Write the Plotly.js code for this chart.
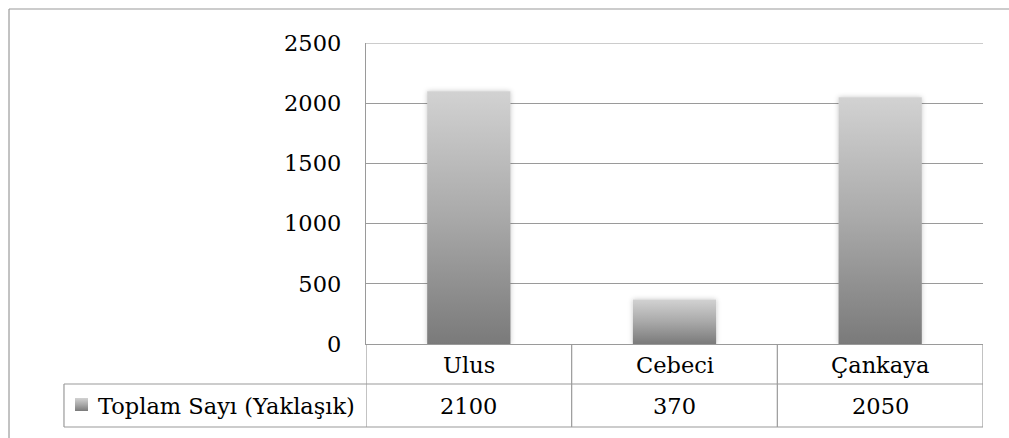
<!DOCTYPE html>
<html>
<head>
<meta charset="utf-8">
<script src="https://cdn.plot.ly/plotly-3.0.1.min.js"></script>
<style>
  html, body { margin: 0; padding: 0; background: #fff; }
  #chart { width: 1009px; height: 438px; }
</style>
</head>
<body>
<div id="chart"></div>
<script>
// ---- data ----
const categories = ["Ulus", "Cebeci", "Çankaya"];
const values = [2100, 370, 2050];
const seriesName = "Toplam Sayı (Yaklaşık)";
const yTicks = [0, 500, 1000, 1500, 2000, 2500];

// ---- style ----
const FONT = "DejaVu Serif";
const FS = 22.5;
const LINE = "#9a9a9a";
const KEY_FILL = "#a5a5a6";

const trace = {
  type: "bar",
  x: categories,
  y: values,
  name: seriesName,
  width: 0.405,
  marker: { color: "#a8a8a8", line: { width: 0 } },
  hoverinfo: "none",
  showlegend: false
};

// table / frame geometry (paper coords)
const tableLeft = -0.4895, row1 = -0.1329, row2 = -0.2757;
const shapes = [
  // outer chart frame (top + left edges)
  { type: "line", xref: "paper", yref: "paper", x0: -0.5786, x1: 1.05, y0: 1.113, y1: 1.113, line: { color: LINE, width: 1.2 } },
  { type: "line", xref: "paper", yref: "paper", x0: -0.5786, x1: -0.5786, y0: 1.113, y1: -0.33, line: { color: LINE, width: 1.2 } },
  // top gridline (at axis range edge)
  { type: "line", xref: "paper", yref: "y", x0: 0, x1: 1, y0: yTicks[yTicks.length - 1], y1: yTicks[yTicks.length - 1], line: { color: LINE, width: 1.2 } },
  // data table horizontal lines
  { type: "line", xref: "paper", yref: "paper", x0: tableLeft, x1: 1, y0: row1, y1: row1, line: { color: LINE, width: 1.2 } },
  { type: "line", xref: "paper", yref: "paper", x0: tableLeft, x1: 1, y0: row2, y1: row2, line: { color: LINE, width: 1.2 } },
  { type: "line", xref: "paper", yref: "paper", x0: tableLeft, x1: tableLeft, y0: row1, y1: row2, line: { color: LINE, width: 1.2 } },
  // legend key
  { type: "rect", xref: "paper", yref: "paper", x0: -0.4716, x1: -0.4506, y0: -0.1794, y1: -0.2226, fillcolor: KEY_FILL, line: { width: 0 } }
];
// vertical table lines at category boundaries
for (let i = 0; i <= categories.length; i++) {
  shapes.push({ type: "line", xref: "x", yref: "paper", x0: i - 0.5, x1: i - 0.5, y0: 0, y1: row2, line: { color: LINE, width: 1.2 } });
}

const annotations = [];
categories.forEach((c, i) => {
  annotations.push({ x: c, xref: "x", yref: "paper", y: -0.0698, text: c, showarrow: false, xanchor: "center", yanchor: "middle", font: { family: FONT, size: FS, color: "#000" } });
  annotations.push({ x: c, xref: "x", yref: "paper", y: -0.206, text: String(values[i]), showarrow: false, xanchor: "center", yanchor: "middle", font: { family: FONT, size: FS, color: "#000" } });
});
annotations.push({ x: -0.4375, xref: "paper", yref: "paper", y: -0.206, text: seriesName, showarrow: false, xanchor: "left", yanchor: "middle", font: { family: FONT, size: FS, color: "#000" } });

const layout = {
  width: 1009,
  height: 438,
  margin: { l: 366, r: 26, t: 43, b: 94, pad: 0 },
  paper_bgcolor: "#fff",
  plot_bgcolor: "#fff",
  font: { family: FONT, size: FS, color: "#000" },
  showlegend: false,
  xaxis: {
    type: "category",
    range: [-0.5, categories.length - 0.5],
    showticklabels: false,
    ticks: "",
    showgrid: false,
    zeroline: false,
    showline: true,
    linecolor: LINE,
    linewidth: 1.2,
    fixedrange: true
  },
  yaxis: {
    range: [0, 2500],
    tickvals: yTicks,
    ticktext: yTicks.map(String),
    ticks: "",
    ticklabelstandoff: 19,
    showgrid: true,
    gridcolor: LINE,
    gridwidth: 1.2,
    zeroline: false,
    showline: true,
    linecolor: LINE,
    linewidth: 1.2,
    tickfont: { family: FONT, size: FS, color: "#000" },
    fixedrange: true
  },
  shapes: shapes,
  annotations: annotations
};

Plotly.newPlot("chart", [trace], layout, { staticPlot: true, displayModeBar: false }).then(gd => {
  const svg = gd.querySelector("svg.main-svg");
  const NS = "http://www.w3.org/2000/svg";
  let defs = svg.querySelector("defs");
  if (!defs) { defs = document.createElementNS(NS, "defs"); svg.insertBefore(defs, svg.firstChild); }
  const grad = document.createElementNS(NS, "linearGradient");
  grad.setAttribute("id", "barGrad");
  grad.setAttribute("x1", "0"); grad.setAttribute("y1", "0");
  grad.setAttribute("x2", "0"); grad.setAttribute("y2", "1");
  [["0", "#d2d2d2"], ["0.5", "#a9a9a9"], ["1", "#7a7a7a"]].forEach(([o, c]) => {
    const s = document.createElementNS(NS, "stop");
    s.setAttribute("offset", o); s.setAttribute("stop-color", c);
    grad.appendChild(s);
  });
  defs.appendChild(grad);
  const filt = document.createElementNS(NS, "filter");
  filt.setAttribute("id", "barShadow");
  filt.setAttribute("x", "-20%"); filt.setAttribute("y", "-20%");
  filt.setAttribute("width", "140%"); filt.setAttribute("height", "140%");
  const ds = document.createElementNS(NS, "feDropShadow");
  ds.setAttribute("dx", "0"); ds.setAttribute("dy", "0");
  ds.setAttribute("stdDeviation", "2.5");
  ds.setAttribute("flood-color", "#000"); ds.setAttribute("flood-opacity", "0.22");
  filt.appendChild(ds);
  defs.appendChild(filt);
  gd.querySelectorAll(".barlayer .point path").forEach(p => {
    p.style.fill = "url(#barGrad)";
    p.setAttribute("filter", "url(#barShadow)");
  });
  gd.querySelectorAll(".shapelayer path").forEach(p => {
    const f = (p.style.fill || "").replace(/\s/g, "");
    if (f === "rgb(165,165,166)") p.style.fill = "url(#barGrad)";
  });
});
</script>
</body>
</html>
